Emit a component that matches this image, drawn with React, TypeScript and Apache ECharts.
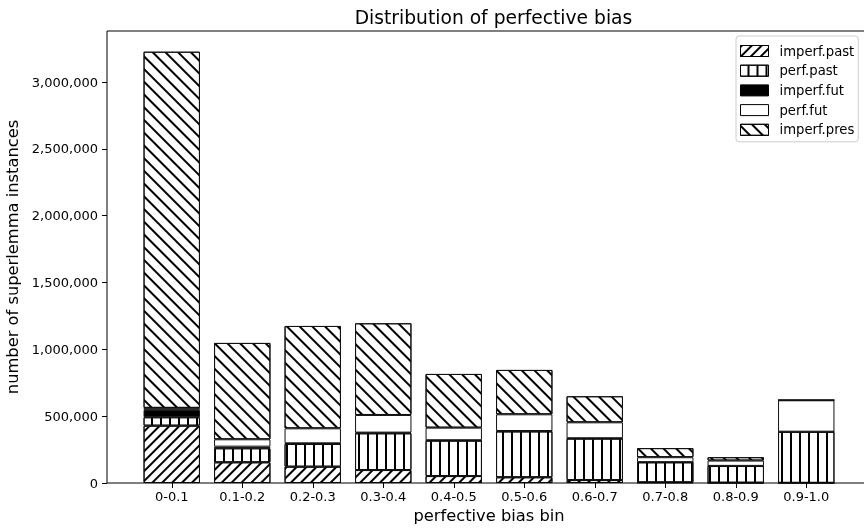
import React, { useEffect, useRef } from "react";
import * as echarts from "echarts";

const categories = ["0-0.1", "0.1-0.2", "0.2-0.3", "0.3-0.4", "0.4-0.5", "0.5-0.6", "0.6-0.7", "0.7-0.8", "0.8-0.9", "0.9-1.0"];
const imperfPast = [429000, 155000, 122000, 97000, 52000, 43000, 22000, 5000, 2000, 1000];
const perfPast = [63000, 105000, 170000, 275000, 265000, 343000, 310000, 150000, 125000, 382000];
const imperfFut = [55000, 12000, 5000, 5000, 3000, 3000, 3000, 1000, 1000, 1000];
const perfFut = [15000, 55000, 112000, 132000, 94000, 125000, 119000, 37000, 40000, 235000];
const imperfPres = [2665000, 721000, 766000, 686000, 402000, 332000, 195000, 68000, 25000, 2000];
const yTicks = [0, 500000, 1000000, 1500000, 2000000, 2500000, 3000000];
const yMax = 3382000;

const FONT = "DejaVu Sans";

export default function App() {
  const ref = useRef<HTMLDivElement>(null);
  useEffect(() => {
    const chart = echarts.init(ref.current!, null, { renderer: "svg" });
    const edge = { borderColor: "#111", borderWidth: 1 };
    const mk = (name: string, data: number[], itemStyle: any) => ({
      name,
      type: "bar",
      stack: "total",
      data,
      barWidth: "80%",
      itemStyle: { ...edge, ...itemStyle },
    });
    const option: any = {
      animation: false,
      textStyle: { fontFamily: FONT },
      title: {
        text: "Distribution of perfective bias",
        left: 488.5,
        top: 3,
        textAlign: "center",
        textStyle: { fontFamily: FONT, fontSize: 18.7, fontWeight: "normal", color: "#000" },
      },
      legend: {
        orient: "vertical",
        left: 736,
        top: 36,
        icon: "rect",
        itemWidth: 28,
        itemHeight: 11,
        itemGap: 6.7,
        padding: [8.5, 4, 5.5, 4],
        borderColor: "#cccccc",
        borderWidth: 1,
        borderRadius: 3,
        backgroundColor: "#fff",
        itemStyle: { borderColor: "#000", borderWidth: 1 },
        textStyle: { fontFamily: FONT, fontSize: 13.2, color: "#000", padding: [0, 0, 0, 6] },
        data: ["imperf.past", "perf.past", "imperf.fut", "perf.fut", "imperf.pres"],
      },
      grid: { left: 136.5, width: 705, top: 31, height: 452, containLabel: false, outerBoundsMode: "none" },
      xAxis: {
        type: "category",
        data: categories,
        name: "perfective bias bin",
        nameLocation: "middle",
        nameGap: 19,
        nameTextStyle: { fontFamily: FONT, fontSize: 16.3, color: "#000" },
        axisLine: { show: false },
        axisTick: { show: true, alignWithLabel: true, length: 5, lineStyle: { color: "#000" } },
        axisLabel: { fontFamily: FONT, fontSize: 13, color: "#000", margin: 7 },
      },
      yAxis: {
        type: "value",
        min: 0,
        max: yMax,
        offset: 29.5,
        name: "number of superlemma instances",
        nameLocation: "middle",
        nameGap: 87,
        nameTextStyle: { fontFamily: FONT, fontSize: 16.3, color: "#000" },
        splitLine: { show: false },
        axisLine: { show: false },
        axisTick: { show: true, length: 5, lineStyle: { color: "#000" }, customValues: yTicks },
        axisLabel: {
          fontFamily: FONT,
          fontSize: 13,
          color: "#000",
          margin: 9,
          customValues: yTicks,
          formatter: (v: number) => v.toLocaleString("en-US"),
        },
      },
      graphic: [
        {
          type: "rect",
          shape: { x: 107, y: 31, width: 763, height: 452 },
          style: { fill: "none", stroke: "#000", lineWidth: 1 },
          z: 100,
          silent: true,
        },
      ],
      series: [
        mk("imperf.past", imperfPast, {
          color: "#fff",
          decal: { symbol: "rect", symbolSize: 1, color: "#000", dashArrayX: [1, 0], dashArrayY: [1.1, 4.1], rotation: -Math.PI / 4 },
        }),
        mk("perf.past", perfPast, {
          color: "#fff",
          decal: { symbol: "rect", symbolSize: 1, color: "#000", dashArrayX: [1, 0], dashArrayY: [1.2, 6.8], rotation: Math.PI / 2 },
        }),
        mk("imperf.fut", imperfFut, { color: "#000" }),
        mk("perf.fut", perfFut, { color: "#fff" }),
        mk("imperf.pres", imperfPres, {
          color: "#fff",
          decal: { symbol: "rect", symbolSize: 1, color: "#000", dashArrayX: [1, 0], dashArrayY: [1.2, 6.6], rotation: Math.PI / 4 },
        }),
      ],
    };
    chart.setOption(option);
    return () => chart.dispose();
  }, []);
  return <div ref={ref} style={{ position: "fixed", left: 0, top: 0, width: 864, height: 528 }} />;
}
